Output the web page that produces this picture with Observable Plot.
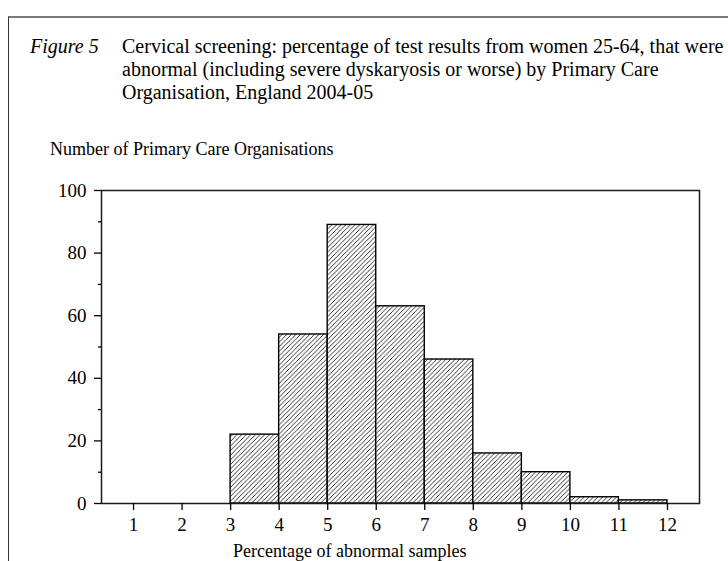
<!DOCTYPE html>
<html><head><meta charset="utf-8">
<script src="https://cdn.jsdelivr.net/npm/d3@7"></script>
<script src="https://cdn.jsdelivr.net/npm/@observablehq/plot@0.6"></script>
<style>
body{margin:0;background:#fff;}
#page{position:relative;width:728px;height:561px;overflow:hidden;font-family:"Liberation Serif","Times New Roman",serif;color:#000;background:#fff;}
#border{position:absolute;left:8px;top:16px;right:-4px;bottom:-4px;border-top:2px solid #7a7a7a;border-left:1.5px solid #333;}
.t{position:absolute;white-space:nowrap;}
#chart{position:absolute;left:0;top:175px;}
</style></head><body>
<div id="page">
  <div id="border"></div>
  <div class="t" style="left:30px;top:35px;font-size:20px;line-height:23px;font-style:italic;">Figure 5</div>
  <div class="t" id="title" style="left:122px;top:35px;font-size:20px;line-height:23px;"></div>
  <div class="t" id="ylab" style="left:50px;top:140px;font-size:18px;line-height:18px;"></div>
  <div class="t" id="xlab" style="left:233px;top:542px;font-size:18px;line-height:18px;"></div>
  <div id="chart"></div>
</div>
<script>
// Data
const titleLines = [
  "Cervical screening: percentage of test results from women 25-64, that were",
  "abnormal (including severe dyskaryosis or worse) by Primary Care",
  "Organisation, England 2004-05"
];
const yLabel = "Number of Primary Care Organisations";
const xLabel = "Percentage of abnormal samples";
const binStart = [3, 4, 5, 6, 7, 8, 9, 10, 11];
const binEnd   = [4, 5, 6, 7, 8, 9, 10, 11, 12];
const counts   = [22, 54, 89, 63, 46, 16, 10, 2, 1];
const xTicks = [1, 2, 3, 4, 5, 6, 7, 8, 9, 10, 11, 12];
const yMajorTicks = [0, 20, 40, 60, 80, 100];
const yMinorTicks = [10, 30, 50, 70, 90];

document.getElementById("title").innerHTML = titleLines.join("<br>");
document.getElementById("ylab").textContent = yLabel;
document.getElementById("xlab").textContent = xLabel;

const rows = counts.map((c, i) => ({x1: binStart[i], x2: binEnd[i], count: c}));

const chart = Plot.plot({
  width: 728,
  height: 386,
  marginTop: 15,
  marginLeft: 101,
  marginRight: 29,
  marginBottom: 58,
  style: {fontFamily: "'Liberation Serif','Times New Roman',serif", fontSize: "19px", color: "#000", background: "transparent"},
  x: {domain: [0.34, 12.66]},
  y: {domain: [0, 100]},
  marks: [
    Plot.rectY(rows, {x1: "x1", x2: "x2", y: "count", fill: "url(#hatch)", stroke: "#000", strokeWidth: 1.4}),
    Plot.frame({stroke: "#1a1a1a", strokeWidth: 1.5}),
    Plot.axisY(yMajorTicks, {tickSize: 7, tickPadding: 8, label: null, strokeWidth: 1.3}),
    Plot.axisY(yMinorTicks, {tickSize: 3, text: null, label: null, strokeWidth: 1.3}),
    Plot.axisX(xTicks, {tickSize: 7, tickPadding: 7, label: null, strokeWidth: 1.3})
  ]
});

chart.querySelectorAll("g[aria-label$='tick label']").forEach(g => {
  g.setAttribute("font-size", "19");
  g.style.fontSize = "19px";
  g.setAttribute("font-family", "Liberation Serif");
  g.style.fontFamily = "'Liberation Serif', serif";
  g.setAttribute("fill", "#000");
});

const ns = "http://www.w3.org/2000/svg";
const defs = document.createElementNS(ns, "defs");
defs.innerHTML = '<pattern id="hatch" patternUnits="userSpaceOnUse" width="4.6" height="4.6">' +
  '<rect width="4.6" height="4.6" fill="#fff"/>' +
  '<path d="M-1,1 L1,-1 M0,4.6 L4.6,0 M3.6,5.6 L5.6,3.6" stroke="#000" stroke-width="0.8"/></pattern>';
chart.insertBefore(defs, chart.firstChild);
document.getElementById("chart").appendChild(chart);
</script>
</body></html>
